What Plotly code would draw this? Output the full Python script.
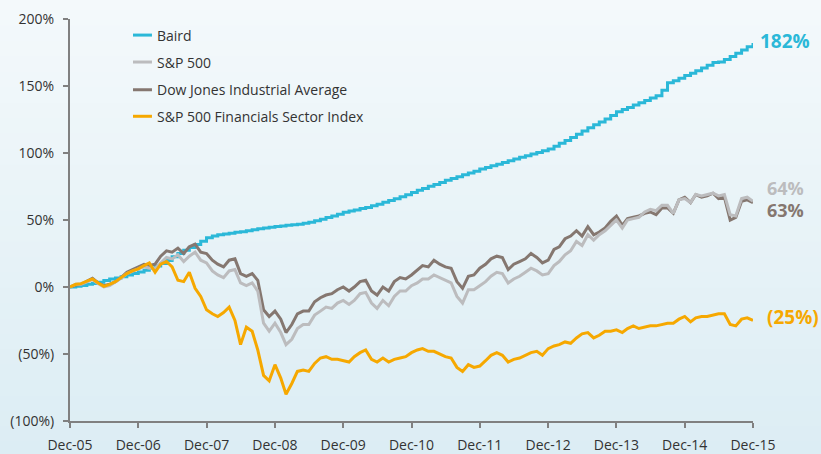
import pandas as pd
import plotly.graph_objects as go

# Monthly observations, Dec-05 .. Dec-15 (121 points), cumulative return in %
months = pd.date_range("2005-12-31", periods=121, freq="ME")

baird = [0,
    0.5, 1.2, 2.0, 2.6, 3.5, 4.8, 5.9, 6.8, 7.6, 8.9, 10.0, 11.2,
    12.5, 14.0, 15.6, 17.5, 19.8, 22.6, 25.0, 27.4, 29.5, 31.8, 34.2, 36.8,
    38.0, 38.9, 39.5, 40.2, 40.8, 41.3, 42.0, 42.8, 43.5, 44.0, 44.6, 45.2,
    45.6, 46.0, 46.4, 46.9, 47.5, 48.4, 49.5, 50.6, 51.8, 53.0, 54.3, 55.8,
    56.8, 57.5, 58.5, 59.4, 60.6, 61.8, 63.2, 64.5, 65.9, 67.3, 68.8, 70.6,
    72.2, 73.6, 75.2, 76.5, 78.0, 79.6, 81.0, 82.3, 83.8, 85.1, 86.4, 88.0,
    89.2, 90.5, 91.6, 93.0, 94.2, 95.6, 96.8, 98.0, 99.2, 100.4, 101.6, 103.0,
    105.0, 107.2, 109.4, 111.6, 114.0, 116.5, 118.8, 121.0, 123.2, 125.4, 128.0, 130.8,
    132.5, 134.0, 135.8, 137.5, 139.2, 141.0, 142.8, 146.8, 152.5, 154.0, 155.8, 157.8,
    159.5, 161.3, 163.5, 165.5, 167.6, 168.0, 169.8, 172.0, 174.5, 176.8, 179.3, 182.0]

sp500 = [0,
    2, 2, 3.5, 5.5, 2.5, 0, 1, 3.5, 6.5, 10, 12, 13.5,
    15, 14, 14, 18, 22, 21, 24, 19, 23, 26, 20, 18,
    12, 9, 7, 12, 13, 3, 1, 3, -3, -27, -33, -27,
    -34, -43, -39, -31, -28, -28, -21, -18, -15, -16, -12, -10,
    -13, -10, -5, -4, -12, -16, -10, -14, -7, -3, -3, 1,
    3, 6, 6, 9, 7, 5, 3, -7, -12, -2, -2, 1,
    4, 8, 11, 10, 3, 6, 8, 11, 14, 12, 9, 10,
    16, 19, 24, 27, 34, 31, 39, 35, 39, 42, 46, 50,
    44, 50, 51, 52, 56, 58, 57, 61, 61, 55, 65, 66,
    63, 69, 68, 69, 70, 68, 69, 54, 53, 66, 67, 64]

djia = [0,
    1.5, 2, 4, 6.5, 3, 1, 2, 4, 7, 11, 13, 15,
    17, 16, 17, 23, 27, 26, 29, 25, 30, 32, 26, 25,
    20, 17, 15, 20, 21, 10, 8, 10, 5, -17, -22, -18,
    -24, -34, -28, -20, -18, -18, -11, -8, -6, -5, -2, 0,
    -3, 0, 4, 5, -3, -6, 0, -3, 4, 7, 6, 9,
    13, 16, 15, 20, 17, 15, 14, 4, -1, 8, 9, 14,
    17, 21, 23, 22, 13, 17, 19, 21, 25, 22, 18, 20,
    28, 30, 36, 38, 42, 38, 45, 39, 41, 44, 49, 53,
    46, 51, 52, 53, 55, 56, 54, 59, 59, 55, 65, 67,
    63, 69, 67, 68, 70, 66, 67, 50, 52, 64, 65, 63]

financials = [0,
    2, 2.5, 4, 6, 3, 0.5, 2, 4, 7, 10, 12, 13.5,
    16, 18, 11, 17, 19, 15, 5, 4, 11, -1, -7, -17,
    -20, -22, -19, -15, -25, -43, -30, -33, -47, -66, -70, -58,
    -68, -80, -72, -63, -62, -63, -57, -53, -52, -54, -54, -55,
    -56, -52, -49, -47, -54, -56, -53, -56, -54, -53, -52, -49,
    -47, -46, -48, -48, -50, -52, -53, -60, -63, -58, -60, -59,
    -55, -51, -49, -51, -56, -54, -53, -51, -49, -48, -51, -46,
    -44, -43, -41, -42, -38, -35, -34, -38, -36, -33, -33, -32,
    -34, -31, -29, -31, -30, -29, -29, -28, -27, -27, -24, -22,
    -26, -23, -22, -22, -21, -20, -20, -28, -29, -24, -23, -25]

tick_dates = pd.date_range("2005-12-31", periods=11, freq="12ME")
tick_text = ["Dec-05", "Dec-06", "Dec-07", "Dec-08", "Dec-09", "Dec-10",
             "Dec-11", "Dec-12", "Dec-13", "Dec-14", "Dec-15"]
y_ticks = [-100, -50, 0, 50, 100, 150, 200]
y_text = ["(100%)", "(50%)", "0%", "50%", "100%", "150%", "200%"]

legend_names = ["Baird", "S&P 500", "Dow Jones Industrial Average",
                "S&P 500 Financials Sector Index"]

C_BAIRD = "#2bb8d8"
C_SP = "#bcbcbe"
C_DJ = "#857770"
C_FIN = "#f6a800"
FONT = "Open Sans"

fig = go.Figure()
fig.add_trace(go.Scatter(x=months, y=baird, name=legend_names[0], mode="lines",
                         line=dict(color=C_BAIRD, width=3, shape="hv")))
fig.add_trace(go.Scatter(x=months, y=djia, name=legend_names[2], mode="lines",
                         line=dict(color=C_DJ, width=3)))
fig.add_trace(go.Scatter(x=months, y=sp500, name=legend_names[1], mode="lines",
                         line=dict(color=C_SP, width=3)))
fig.add_trace(go.Scatter(x=months, y=financials, name=legend_names[3], mode="lines",
                         line=dict(color=C_FIN, width=3)))

# background gradient bands
top = (244, 249, 251)
bot = (220, 237, 244)
n = 30
y0, y1 = -0.09, 1.06
shapes = []
for i in range(n):
    t = i / (n - 1)
    c = tuple(round(bot[k] + (top[k] - bot[k]) * t) for k in range(3))
    ya = y0 + (y1 - y0) * i / n
    yb = y0 + (y1 - y0) * (i + 1) / n + 0.002
    shapes.append(dict(type="rect", xref="paper", yref="paper", x0=-0.2, x1=1.2,
                       y0=ya, y1=yb, fillcolor="rgb(%d,%d,%d)" % c,
                       line=dict(width=0), layer="below"))

# hand-placed legend (short line samples like the original)
leg_colors = [C_BAIRD, C_SP, C_DJ, C_FIN]
leg_y = [0.960, 0.893, 0.824, 0.758]
annots = []
for name, col, ly in zip(legend_names, leg_colors, leg_y):
    shapes.append(dict(type="line", xref="paper", yref="paper", x0=0.0922, x1=0.1200,
                       y0=ly, y1=ly, line=dict(color=col, width=3)))
    annots.append(dict(xref="paper", yref="paper", x=0.1245, y=ly, text=name,
                       xanchor="left", yanchor="middle", showarrow=False,
                       font=dict(size=14, color="#333333", family=FONT)))

end = months[-1]
annots += [
    dict(x=end, y=baird[-1], text="<b>182%</b>", font=dict(color=C_BAIRD, size=19, family=FONT),
         xanchor="left", xshift=5, yshift=2, showarrow=False),
    dict(x=end, y=sp500[-1], text="<b>64%</b>", font=dict(color=C_SP, size=18, family=FONT),
         xanchor="left", xshift=12, yshift=13, showarrow=False),
    dict(x=end, y=djia[-1], text="<b>63%</b>", font=dict(color=C_DJ, size=18, family=FONT),
         xanchor="left", xshift=12, yshift=-7, showarrow=False),
    dict(x=end, y=financials[-1], text="<b>(25%)</b>", font=dict(color=C_FIN, size=19, family=FONT),
         xanchor="left", xshift=12, yshift=4, showarrow=False),
]

fig.update_layout(
    width=821, height=454,
    margin=dict(l=70, r=68, t=19, b=33, autoexpand=False),
    paper_bgcolor="rgb(230,243,248)",
    plot_bgcolor="rgba(0,0,0,0)",
    font=dict(family=FONT, size=14, color="#333333"),
    shapes=shapes,
    annotations=annots,
    showlegend=False,
    xaxis=dict(range=[months[0], months[-1]], tickvals=tick_dates, ticktext=tick_text,
               showgrid=False, zeroline=False, showline=True, linecolor="#808080", linewidth=2,
               ticks="outside", ticklen=5, tickwidth=1.5, tickcolor="#808080",
               ticklabelstandoff=5, automargin=False,
               tickfont=dict(size=14, color="#333333", family=FONT)),
    yaxis=dict(range=[-100, 200], tickvals=y_ticks, ticktext=y_text,
               showgrid=False, zeroline=False, showline=True, linecolor="#808080", linewidth=2,
               ticks="outside", ticklen=5, tickwidth=1.5, tickcolor="#808080",
               ticklabelstandoff=6, automargin=False,
               tickfont=dict(size=14, color="#333333", family=FONT)),
)

fig.write_html("out.html", config={"displayModeBar": False},
               post_script="document.body.style.margin='0px';document.body.style.overflow='hidden';")
